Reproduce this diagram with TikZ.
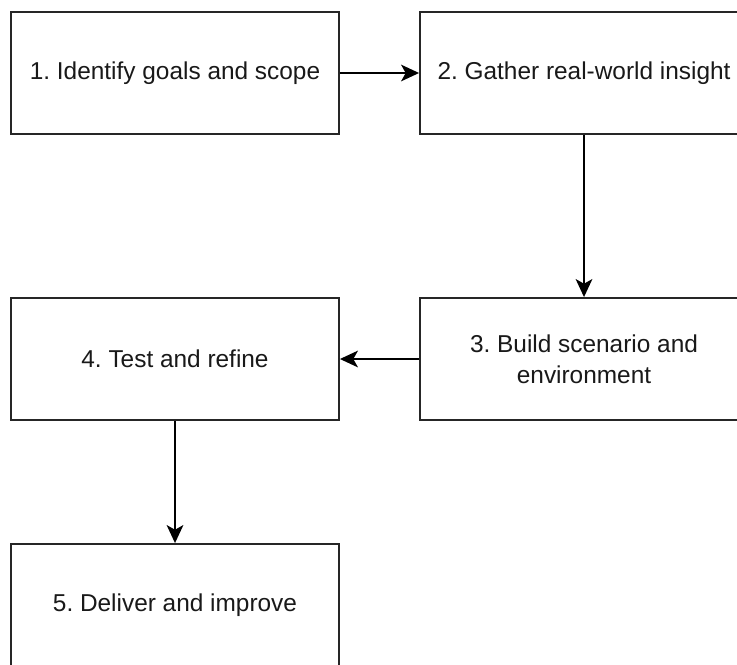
\documentclass[tikz,border=0pt]{standalone}
\usepackage{fontspec}
\setmainfont{Liberation Sans}
\usetikzlibrary{arrows.meta}
\frenchspacing
\begin{document}
\begin{tikzpicture}[x=0.75pt,y=-0.75pt,
  stepbox/.style={draw=black!85,line width=1.4pt,minimum width=328*0.75pt,minimum height=122*0.75pt,inner sep=0pt,align=center,font=\fontsize{18.3pt}{23.5pt}\selectfont,text=black!90},
  conn/.style={draw=black,line width=1.4pt,-{Stealth[length=13.5pt,width=12.5pt,inset=3.5pt]}}]
\useasboundingbox (0,0) rectangle (737,664);
\clip (0,0) rectangle (737,664);
\fill[white] (0,0) rectangle (737,664);
\node[stepbox] (b1) at (175,73) {1. Identify goals and scope};
\node[stepbox] (b2) at (584,73) {2. Gather real-world insight};
\node[stepbox] (b3) at (584,359) {3. Build scenario and\\environment};
\node[stepbox] (b4) at (175,359) {4. Test and refine};
\node[stepbox] (b5) at (175,605) {5. Deliver and improve};
\draw[conn] (b1) -- (b2);
\draw[conn] (b2) -- (b3);
\draw[conn] (b3) -- (b4);
\draw[conn] (b4) -- (b5);
\end{tikzpicture}
\end{document}
